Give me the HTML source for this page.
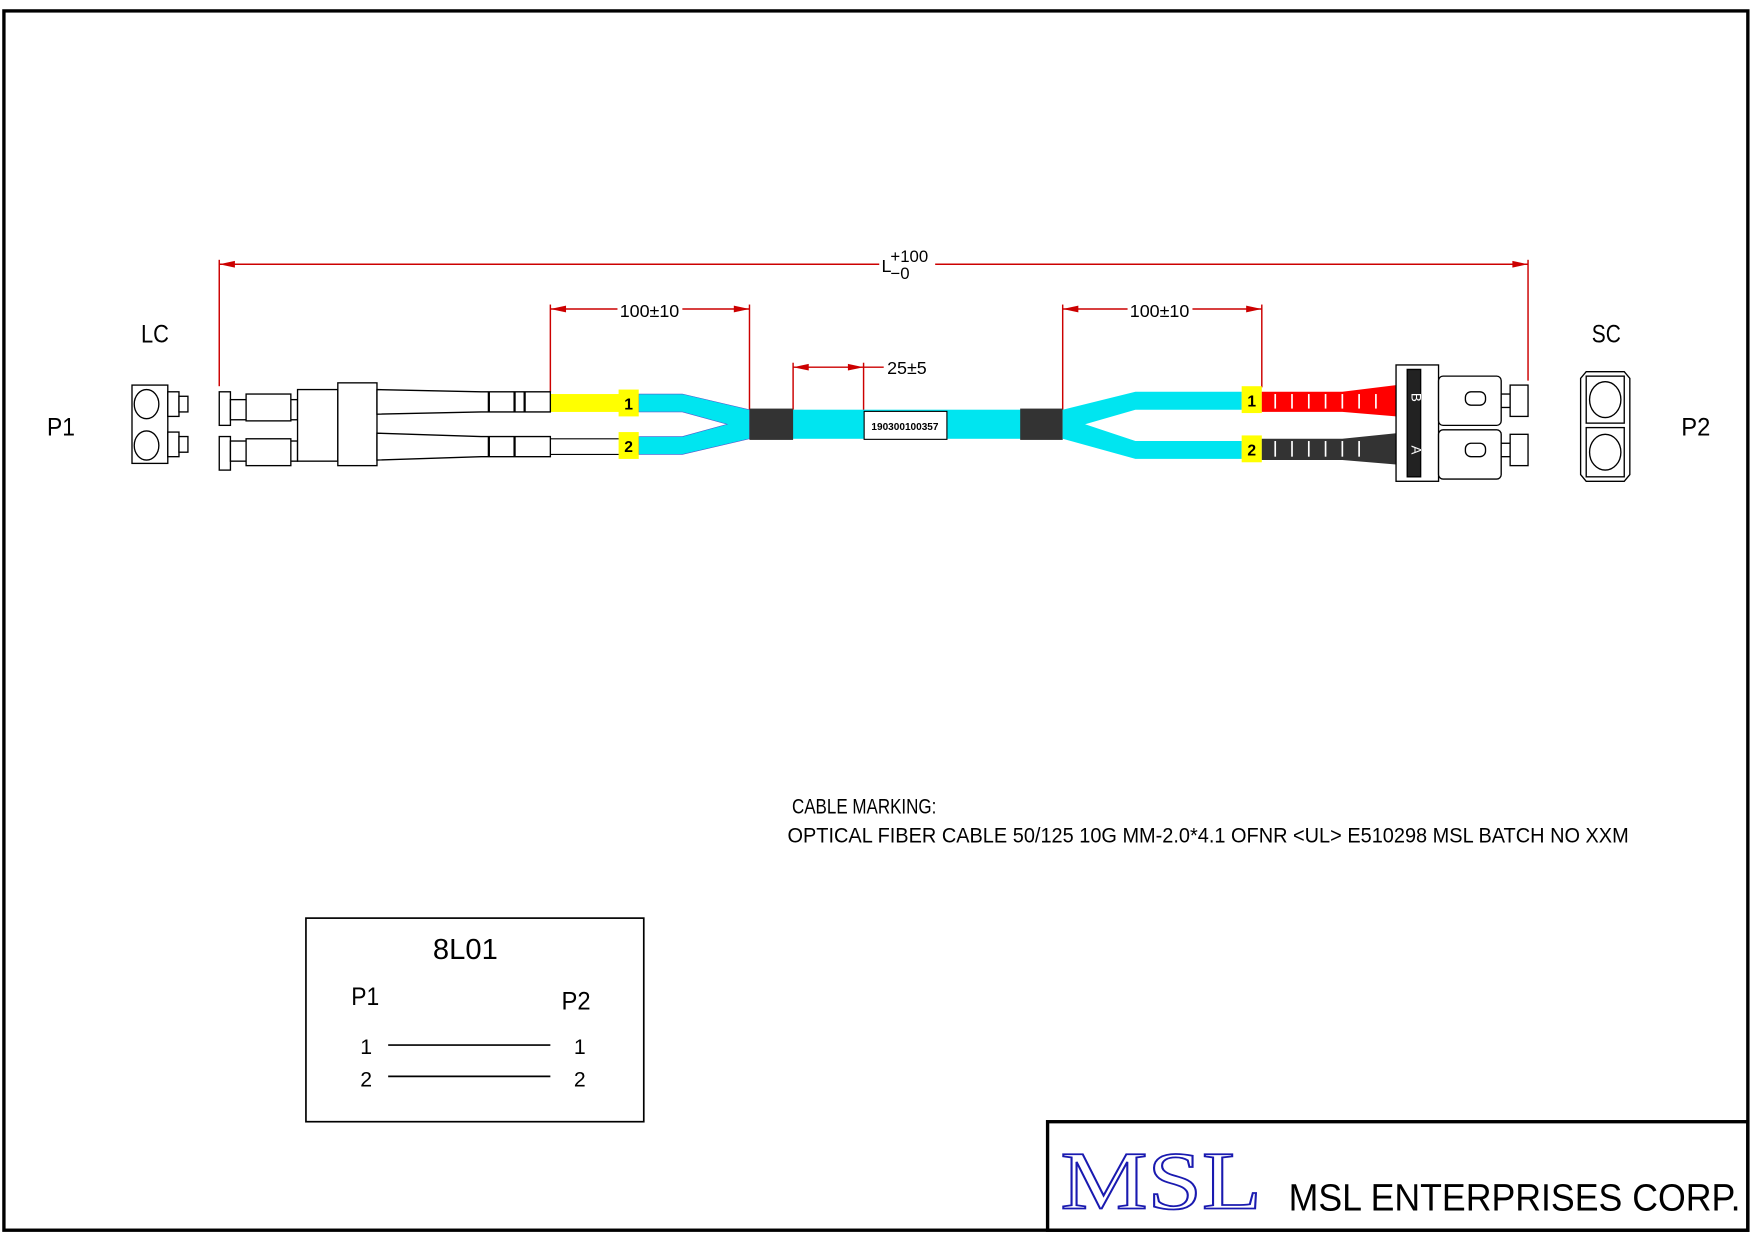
<!DOCTYPE html>
<html><head><style>html,body{margin:0;padding:0;background:#fff}svg{display:block}</style></head><body>
<svg width="1754" height="1240" viewBox="0 0 1568 1108" xmlns="http://www.w3.org/2000/svg" font-family="Liberation Sans, sans-serif">
<rect width="1568" height="1108" fill="#fff"/>
<rect x="3.5" y="9.5" width="1559" height="1090" fill="none" stroke="#000" stroke-width="3"/>
<!-- title block -->
<rect x="936.5" y="1002.5" width="626" height="97" fill="none" stroke="#000" stroke-width="3"/>
<text x="948" y="1080" font-family="Liberation Serif, serif" font-size="74" fill="#fff" stroke="#1a1ab0" stroke-width="1.6" textLength="180" lengthAdjust="spacingAndGlyphs">MSL</text>
<text x="1152" y="1082" font-size="34" fill="#000" textLength="404" lengthAdjust="spacingAndGlyphs">MSL  ENTERPRISES  CORP.</text>
<!-- wiring box -->
<rect x="273.5" y="820.5" width="302" height="182" fill="none" stroke="#000" stroke-width="1.5"/>
<text x="387" y="857" font-size="26" textLength="58" lengthAdjust="spacingAndGlyphs">8L01</text>
<text x="314" y="898" font-size="22" textLength="25" lengthAdjust="spacingAndGlyphs">P1</text>
<text x="502" y="902" font-size="22" textLength="26" lengthAdjust="spacingAndGlyphs">P2</text>
<text x="322" y="942" font-size="19">1</text><text x="513" y="942" font-size="19">1</text>
<text x="322" y="971" font-size="19">2</text><text x="513" y="971" font-size="19">2</text>
<line x1="347" y1="934" x2="492" y2="934" stroke="#000" stroke-width="1.5"/>
<line x1="347" y1="962" x2="492" y2="962" stroke="#000" stroke-width="1.5"/>
<!-- cable marking -->
<text x="708" y="727" font-size="19" textLength="129" lengthAdjust="spacingAndGlyphs">CABLE MARKING:</text>
<text x="704" y="753" font-size="19" textLength="752" lengthAdjust="spacingAndGlyphs">OPTICAL FIBER CABLE 50/125 10G MM-2.0*4.1 OFNR &lt;UL&gt; E510298   MSL BATCH NO XXM</text>
<!-- labels -->
<text x="126" y="306" font-size="22" textLength="25" lengthAdjust="spacingAndGlyphs">LC</text>
<text x="42" y="389" font-size="22" textLength="25" lengthAdjust="spacingAndGlyphs">P1</text>
<text x="1423" y="306" font-size="22" textLength="26" lengthAdjust="spacingAndGlyphs">SC</text>
<text x="1503" y="389" font-size="22" textLength="26" lengthAdjust="spacingAndGlyphs">P2</text>
<!-- dimensions -->
<g stroke="#c00" stroke-width="1.3" fill="none">
<line x1="196" y1="236" x2="786" y2="236"/><line x1="836" y1="236" x2="1366" y2="236"/>
<line x1="196" y1="232" x2="196" y2="345"/><line x1="1366" y1="232" x2="1366" y2="340"/>
<line x1="492" y1="276" x2="552" y2="276"/><line x1="610" y1="276" x2="670" y2="276"/>
<line x1="492" y1="272" x2="492" y2="350"/><line x1="670" y1="272" x2="670" y2="366"/>
<line x1="709" y1="328" x2="790" y2="328"/>
<line x1="709" y1="324" x2="709" y2="366"/><line x1="772" y1="324" x2="772" y2="367"/>
<line x1="950" y1="276" x2="1008" y2="276"/><line x1="1066" y1="276" x2="1128" y2="276"/>
<line x1="950" y1="272" x2="950" y2="366"/><line x1="1128" y1="272" x2="1128" y2="346"/>
</g>
<g fill="#c00">
<path d="M196 236l14-3v6z"/><path d="M1366 236l-14-3v6z"/>
<path d="M492 276l14-3v6z"/><path d="M670 276l-14-3v6z"/>
<path d="M709 328l14-3v6z"/><path d="M772 328l-14-3v6z"/>
<path d="M950 276l14-3v6z"/><path d="M1128 276l-14-3v6z"/>
</g>
<text x="788" y="243" font-size="16">L</text>
<text x="796" y="234" font-size="15">+100</text><text x="796" y="249" font-size="15">−0</text>
<text x="554" y="283" font-size="16">100±10</text>
<text x="1010" y="283" font-size="16">100±10</text>
<text x="793" y="334" font-size="16">25±5</text>
<!-- cable -->
<rect x="492" y="352" width="62" height="16" fill="#ff0"/>
<line x1="492" y1="392" x2="554" y2="392" stroke="#000"/><line x1="492" y1="406" x2="554" y2="406" stroke="#000"/>
<path d="M571 352H610L670 366V392L610 406H571V390H610L650 379L610 368H571Z" fill="#00e5f0" stroke="#55c" stroke-width="0.5"/>
<rect x="670" y="366" width="280" height="26" fill="#00e5f0"/>
<rect x="670" y="365" width="39" height="28" fill="#333"/>
<rect x="912" y="365" width="38" height="28" fill="#333"/>
<rect x="772.5" y="367.5" width="74" height="25" fill="#fff" stroke="#000"/>
<text x="809" y="384" font-size="9" text-anchor="middle" font-weight="bold">190300100357</text>
<path d="M950 366L1015 350H1110V366H1015L970 379L1015 394H1110V410H1015L950 392Z" fill="#00e5f0"/>
<g font-size="14" font-weight="bold" text-anchor="middle">
<rect x="553" y="348" width="18" height="24" fill="#ff0"/><text x="562" y="366">1</text>
<rect x="553" y="386" width="18" height="24" fill="#ff0"/><text x="562" y="404">2</text>
<rect x="1110" y="345" width="18" height="24" fill="#ff0"/><text x="1119" y="363">1</text>
<rect x="1110" y="389" width="18" height="24" fill="#ff0"/><text x="1119" y="407">2</text>
</g>
<!-- right boots -->
<path d="M1128 350H1200L1248 344V372L1200 368H1128Z" fill="#f00"/>
<path d="M1128 392H1200L1248 387V415L1200 411H1128Z" fill="#333"/>
<g stroke="#fff" stroke-width="1.5">
<line x1="1140" y1="352" x2="1140" y2="365"/><line x1="1155" y1="352" x2="1155" y2="365"/><line x1="1170" y1="352" x2="1170" y2="365"/><line x1="1185" y1="352" x2="1185" y2="365"/><line x1="1200" y1="352" x2="1200" y2="365"/><line x1="1215" y1="352" x2="1215" y2="365"/><line x1="1230" y1="352" x2="1230" y2="365"/>
<line x1="1140" y1="394" x2="1140" y2="408"/><line x1="1155" y1="394" x2="1155" y2="408"/><line x1="1170" y1="394" x2="1170" y2="408"/><line x1="1185" y1="394" x2="1185" y2="408"/><line x1="1200" y1="394" x2="1200" y2="408"/><line x1="1215" y1="394" x2="1215" y2="408"/>
</g>
<g fill="#fff" stroke="#000" stroke-width="1.2">
<rect x="1248" y="326" width="38" height="104"/>
<rect x="1258" y="330" width="12" height="96" fill="#222"/>
<rect x="1286" y="336" width="56" height="44" rx="4"/><rect x="1286" y="384" width="56" height="44" rx="4"/>
<rect x="1342" y="352" width="8" height="12"/><rect x="1350" y="344" width="16" height="28"/>
<rect x="1342" y="396" width="8" height="12"/><rect x="1350" y="388" width="16" height="28"/>
<rect x="1310" y="350" width="18" height="12" rx="5"/><rect x="1310" y="396" width="18" height="12" rx="5"/>
<!-- SC adapter -->
<path d="M1418 332H1452L1457 338V424L1452 430H1418L1413 424V338Z"/>
<rect x="1418" y="336" width="34" height="42"/><rect x="1418" y="382" width="34" height="44"/>
<ellipse cx="1435" cy="357" rx="14" ry="16"/><ellipse cx="1435" cy="404" rx="14" ry="16"/>
<!-- LC adapter -->
<rect x="118" y="344" width="32" height="70"/>
<ellipse cx="131" cy="361" rx="11" ry="13"/><ellipse cx="131" cy="398" rx="11" ry="13"/>
<rect x="150" y="350" width="10" height="22"/><rect x="150" y="386" width="10" height="22"/>
<rect x="160" y="354" width="8" height="14"/><rect x="160" y="390" width="8" height="14"/>
<!-- LC connectors -->
<rect x="196" y="350" width="10" height="30"/><rect x="196" y="390" width="10" height="30"/>
<rect x="206" y="357" width="60" height="18"/><rect x="206" y="394" width="60" height="18"/>
<rect x="220" y="352" width="40" height="24"/><rect x="220" y="392" width="40" height="24"/>
<rect x="266" y="348" width="36" height="64"/>
<rect x="302" y="342" width="35" height="74"/>
<path d="M337 348L430 350H492V368H430L337 370Z"/>
<path d="M337 387L430 390H492V408H430L337 411Z"/>
</g>
<g stroke="#000" stroke-width="2">
<line x1="437" y1="350" x2="437" y2="368"/><line x1="460" y1="350" x2="460" y2="368"/><line x1="469" y1="350" x2="469" y2="368"/>
<line x1="437" y1="390" x2="437" y2="408"/><line x1="460" y1="390" x2="460" y2="408"/>
</g>
<text transform="translate(1262,355) rotate(90)" font-size="12" fill="#fff" text-anchor="middle">B</text>
<text transform="translate(1262,402) rotate(90)" font-size="12" fill="#fff" text-anchor="middle">A</text>
</svg>
</body></html>
